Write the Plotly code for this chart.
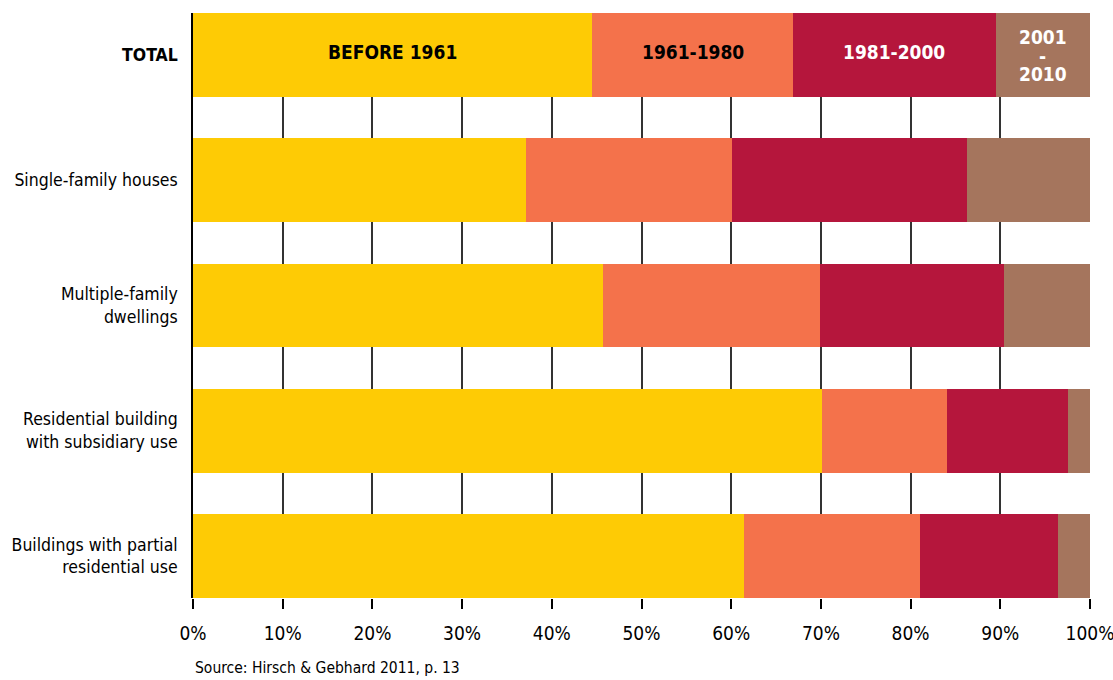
import plotly.graph_objects as go

categories = ["TOTAL", "Single-family houses", "Multiple-family dwellings",
              "Residential building with subsidiary use", "Buildings with partial residential use"]
category_labels = ["<b>TOTAL</b>", "Single-family houses", "Multiple-family<br>dwellings",
                   "Residential building<br>with subsidiary use", "Buildings with partial<br>residential use"]

series_names = ["BEFORE 1961", "1961-1980", "1981-2000", "2001-2010"]
before_1961 = [44.5, 37.1, 45.7, 70.1, 61.4]
from_1961_1980 = [22.4, 23.0, 24.2, 14.0, 19.6]
from_1981_2000 = [22.6, 26.2, 20.5, 13.5, 15.4]
from_2001_2010 = [10.5, 13.7, 9.6, 2.4, 3.6]

colors = ["#FECB05", "#F4724B", "#B5163C", "#A5755D"]
label_colors = ["black", "black", "white", "white"]

tick_values = [0, 10, 20, 30, 40, 50, 60, 70, 80, 90, 100]
tick_labels = ["0%", "10%", "20%", "30%", "40%", "50%", "60%", "70%", "80%", "90%", "100%"]

FONT = "DejaVu Sans Condensed, Liberation Sans Narrow, sans-serif"

series = [before_1961, from_1961_1980, from_1981_2000, from_2001_2010]

fig = go.Figure()
for name, vals, col in zip(series_names, series, colors):
    fig.add_trace(go.Bar(
        x=vals, y=categories, orientation="h", name=name,
        marker=dict(color=col, line=dict(width=0)), width=0.67,
        hoverinfo="x+name",
    ))

# labels inside the TOTAL bar
cum = 0
for i, (name, vals, tc) in enumerate(zip(series_names, series, label_colors)):
    mid = cum + vals[0] / 2
    cum += vals[0]
    if name == "2001-2010":
        parts = name.split("-")
        for txt, shift in [(parts[0], 18), ("-", -1), (parts[1], -19)]:
            fig.add_annotation(x=mid, y=categories[0], text="<b>%s</b>" % txt, showarrow=False,
                               xref="x", yref="y", yshift=shift,
                               font=dict(family=FONT, size=19, color=tc))
    else:
        fig.add_annotation(x=mid, y=categories[0], text="<b>%s</b>" % name, showarrow=False,
                           xref="x", yref="y", yshift=3,
                           font=dict(family=FONT, size=19, color=tc))

fig.add_annotation(x=0, xref="paper", xanchor="left", y=-0.1197, yref="paper", yanchor="middle",
                   text="Source: Hirsch &amp; Gebhard 2011, p. 13", showarrow=False,
                   font=dict(family=FONT, size=15.5, color="black"))

fig.update_layout(
    barmode="stack", width=1113, height=680, showlegend=False,
    margin=dict(l=193, r=23, t=13, b=82),
    paper_bgcolor="white", plot_bgcolor="white",
    font=dict(family=FONT, size=19, color="black"),
    xaxis=dict(range=[0, 100], tickvals=tick_values, ticktext=tick_labels, automargin=False,
               showgrid=True, gridcolor="#333333", gridwidth=1.5, zeroline=False,
               showline=False, ticks="outside", ticklen=10, tickwidth=1.5, tickcolor="black",
               ticklabelstandoff=8, ticklabeloverflow="allow",
               tickfont=dict(family=FONT, size=19, color="black")),
    yaxis=dict(range=[4.336, -0.336], categoryorder="array", categoryarray=categories,
               tickvals=categories, ticktext=category_labels, automargin=False,
               showgrid=False, zeroline=False, showline=True, linecolor="black", linewidth=1.5,
               ticks="", ticklabelstandoff=10, ticklabeloverflow="allow",
               tickfont=dict(family=FONT, size=17.5, color="black")),
)

fig.write_html("out.html", config={"displayModeBar": False},
               post_script="document.body.style.margin='0';document.body.style.overflow='hidden';")
